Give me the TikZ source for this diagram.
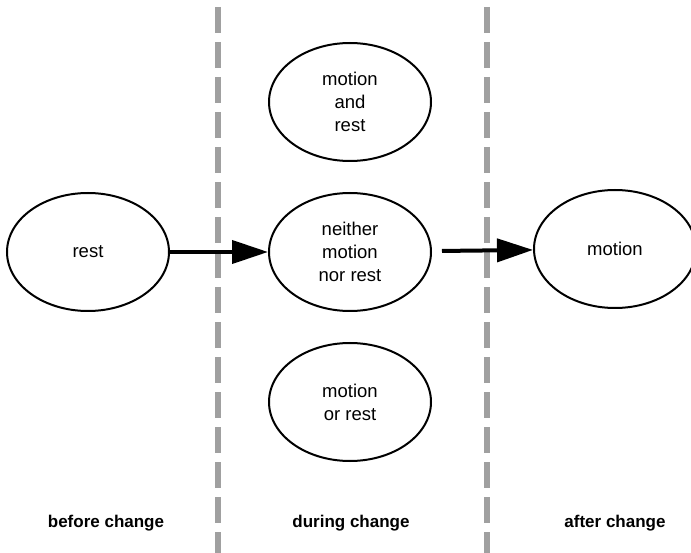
\documentclass[tikz,border=0pt]{standalone}
\usepackage{fontspec}
\setmainfont{Liberation Sans}
\usetikzlibrary{arrows.meta}
\usetikzlibrary{shapes.geometric}
\definecolor{divgray}{HTML}{A0A0A0}

\begin{document}
\begin{tikzpicture}[x=1pt,y=-1pt,
    state/.style={ellipse,draw,line width=2pt,minimum width=162pt,minimum height=118pt,
      inner sep=0pt,align=center,font=\fontsize{18.5}{23}\selectfont},
    move/.style={line width=4pt,-{Triangle[length=36pt,width=23pt]}},
    divider/.style={divgray,line width=6pt,dash pattern=on 26pt off 9pt},
    phase/.style={font=\fontsize{17}{21}\selectfont\bfseries}]
    \useasboundingbox (0,0) rectangle (691,553);

		\coordinate (L1) at (218,7);
		\coordinate (L2) at (218,553);
		\coordinate (R1) at (487,7);
		\coordinate (R2) at (487,553);

		\draw [divider] (L1) -- (L2);
		\draw [divider] (R1) -- (R2);

		\node [state] (rest) at (88,252) {rest};
		\node [state] (both) at (350,102) {motion\\and\\rest};
		\node [state] (neither) at (350,252) {neither\\motion\\nor rest};
		\node [state] (either) at (350,402) {motion\\or rest};
		\node [state] (motion) at (615,249) {motion};

		\draw [move] (rest) -- (neither);
		\draw [move, shorten <=10pt] (neither) -- (motion);

		\node [phase] (before) at (106,523) {before change};
		\node [phase] (during) at (351,523) {during change};
		\node [phase] (after) at (615,523) {after change};

\end{tikzpicture}
\end{document}
